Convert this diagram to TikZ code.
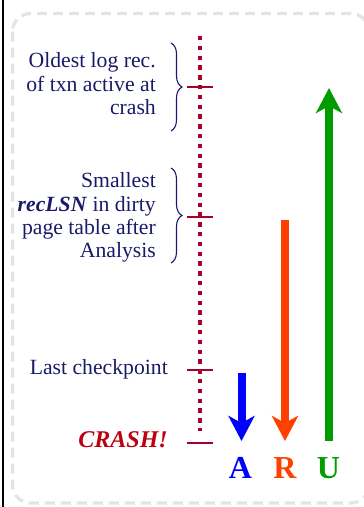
\documentclass[tikz,border=0pt]{standalone}
\usepackage{fontspec}
\setmainfont{Liberation Serif}
\usetikzlibrary{arrows.meta,decorations.pathreplacing}
\definecolor{navy}{HTML}{1A1A68}
\definecolor{tickred}{HTML}{A6002C}
\definecolor{crashred}{HTML}{BC0010}
\definecolor{frame}{HTML}{E4E4E4}
\definecolor{aBlue}{HTML}{0000FF}
\definecolor{rOrange}{HTML}{FF4000}
\definecolor{uGreen}{HTML}{009C00}
\begin{document}
\begin{tikzpicture}[x=1pt,y=-1pt,
  lbl/.style={text=navy,inner sep=0pt,align=right,font=\fontsize{21.7}{23.3}\selectfont},
  tickmark/.style={draw=tickred,line width=2pt},
  bracket/.style={draw=navy,line width=1.1pt,decorate,decoration={brace,amplitude=11pt}},
  bigarrow/.style={line width=8pt,-{Stealth[length=25pt,width=26pt,inset=7pt]}},
  letter/.style={inner sep=0pt,font=\fontsize{32}{32}\selectfont\bfseries}]
\useasboundingbox (0,0) rectangle (364,507);
\begin{scope}
\clip (0,0) rectangle (364,507);
\draw[frame,line width=3.2pt,dash pattern=on 10pt off 6pt,rounded corners=18pt] (12.5,13.5) rectangle (369,503);
\end{scope}
\draw[black,line width=1.3pt] (3,0) -- (3,507);
% timeline
\coordinate (top) at (200,36);
\coordinate (bot) at (200,431);
\draw[tickred,line width=4.3pt,dash pattern=on 4.3pt off 5.5pt] (top) -- (bot);
\coordinate (t1) at (200,87);
\coordinate (t2) at (200,217);
\coordinate (t3) at (200,370);
\coordinate (t4) at (200,443);
\foreach \t in {t1,t2,t3,t4} \draw[tickmark] ([xshift=-13pt]\t) -- ([xshift=13pt]\t);
% braces
\coordinate (b1a) at (171,43); \coordinate (b1b) at (171,131);
\coordinate (b2a) at (171,168); \coordinate (b2b) at (171,263);
\draw[bracket] (b1a) -- (b1b);
\draw[bracket] (b2a) -- (b2b);
% labels
\node[lbl,anchor=east] (oldest) at (156,83.6) {Oldest log rec.\\of txn active at\\crash};
\node[lbl,anchor=east] (smallest) at (156,217.5) {Smallest\\\textbf{\textit{recLSN}} in dirty\\page table after\\Analysis};
\node[lbl,anchor=base east] (ckpt) at (168,374) {Last checkpoint};
\node[anchor=base east,inner sep=0pt,text=crashred,font=\fontsize{24}{24}\selectfont\bfseries\itshape] (crash) at (168,447) {CRASH!};
% arrows
\coordinate (aS) at (241.5,373); \coordinate (aE) at (241.5,441);
\coordinate (rS) at (285,220); \coordinate (rE) at (285,441);
\coordinate (uS) at (329,441); \coordinate (uE) at (329,88);
\draw[bigarrow,aBlue] (aS) -- (aE);
\draw[bigarrow,rOrange] (rS) -- (rE);
\draw[bigarrow,uGreen] (uS) -- (uE);
\node[letter,text=aBlue,anchor=base] (A) at (240.5,478) {A};
\node[letter,text=rOrange,anchor=base] (R) at (285,478) {R};
\node[letter,text=uGreen,anchor=base] (U) at (328.5,478) {U};
\end{tikzpicture}
\end{document}
